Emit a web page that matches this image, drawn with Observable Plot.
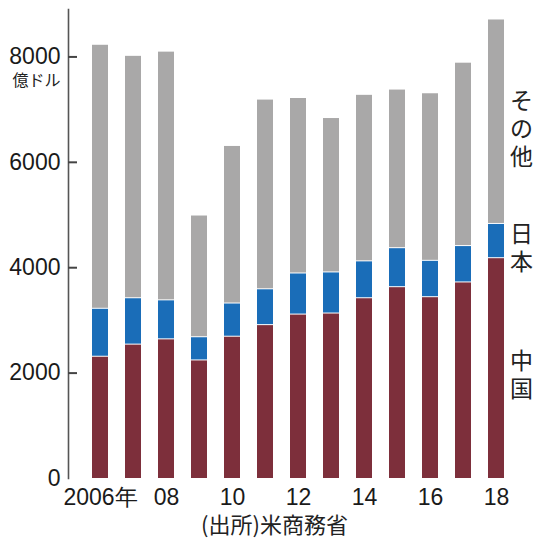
<!DOCTYPE html>
<html><head><meta charset="utf-8">
<script src="https://cdn.jsdelivr.net/npm/d3@7"></script>
<script src="https://cdn.jsdelivr.net/npm/@observablehq/plot@0.6"></script>
<style>
body{margin:0;background:#fff;}
#chart{width:541px;height:542px;position:relative;overflow:hidden;}
#chart svg{display:block;}
.caption{font-family:"Noto Sans CJK JP",sans-serif;font-size:22px;color:#222;text-align:center;width:541px;line-height:26px;padding-left:8px;box-sizing:border-box;}
</style></head>
<body><div id="chart"></div>
<script>
const years = [2006,2007,2008,2009,2010,2011,2012,2013,2014,2015,2016,2017,2018];
const china = [2320,2550,2650,2250,2700,2920,3120,3140,3430,3640,3450,3730,4190];
const japan = [910,880,740,440,630,680,780,780,700,740,690,690,650];
const other = [5010,4600,4720,2310,2990,3600,3330,2930,3160,3010,3180,3480,3880];
const seriesNames = ["中国","日本","その他"];
const seriesColors = ["#7d2f3b","#1a6db8","#a9a8a8"];
const yTicks = [0,2000,4000,6000,8000];
const xTickLabels = ["2006年","","08","","10","","12","","14","","16","","18"];
const unitLabel = "億ドル";
const sourceLabel = "(出所)米商務省";

const seriesVals = [china, japan, other];
const rows = [];
seriesVals.forEach((vals,i)=>vals.forEach((v,j)=>rows.push({year:years[j], series:seriesNames[i], value:v})));

const lastIdx = years.length-1;
let cum = 0;
const labels = seriesNames.map((s,i)=>{
  const v = seriesVals[i][lastIdx];
  const c = cum + v/2; cum += v;
  return {series:s, y:c, chars:s.split("")};
});

const W = 541, H = 510, ML = 68, MR = 0, TICK = 9, CHAR_STEP = 28;

const labelMarks = [];
labels.forEach(l => {
  l.chars.forEach((ch, k) => {
    labelMarks.push(Plot.text([l], {
      x: () => years[lastIdx], y: "y", text: () => ch,
      dx: 25, dy: 8 + (k - (l.chars.length - 1) / 2) * CHAR_STEP,
      fontSize: 23, fontFamily: "Noto Sans CJK JP", fill: "#222"
    }));
  });
});

const plot = Plot.plot({
  width: W, height: H,
  marginLeft: ML, marginRight: MR, marginTop: 9, marginBottom: 32,
  x: {type:"band", domain: years, range:[70.3, 525.7], padding: 0.525},
  y: {domain:[0, 8900]},
  color: {domain: seriesNames, range: seriesColors},
  style: {fontFamily: "Liberation Sans, Arial, sans-serif", background: "white", color: "#222"},
  marks: [
    Plot.barY(rows, {x:"year", y:"value", fill:"series", insetTop: 1}),
    Plot.axisY(yTicks, {tickSize:0, tickPadding:8, fontSize:23, tickFormat:d3.format("d"), label:null, fill:"#1a1a1a"}),
    Plot.axisX({tickSize:0, tickPadding:10, tickFormat:(d,i)=>xTickLabels[i], fontSize:23, label:null, fill:"#1a1a1a"}),
    Plot.frame({anchor:"left", stroke:"#555", strokeWidth:1.6}),
    Plot.tickY(yTicks.slice(1), {y:d=>d, insetRight: W - ML - MR - TICK, stroke:"#444", strokeWidth:2}),
    ...labelMarks,
    Plot.text([unitLabel], {y:()=>yTicks[yTicks.length-1], frameAnchor:"left", dx:-8, dy:24, textAnchor:"end", fontSize:16, fontFamily:"Noto Sans CJK JP", fill:"#222"})
  ]
});
document.getElementById("chart").appendChild(plot);
const cap = document.createElement("div");
cap.className = "caption";
cap.textContent = sourceLabel;
document.getElementById("chart").appendChild(cap);
</script>
</body></html>
